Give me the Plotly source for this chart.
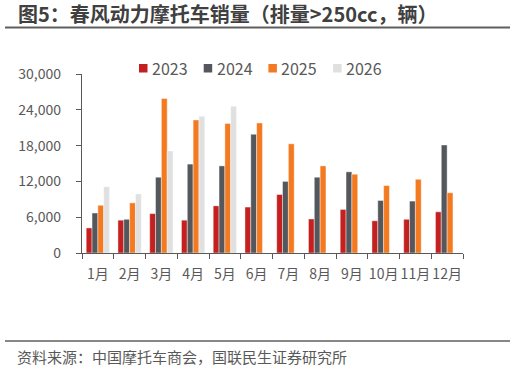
import plotly.graph_objects as go

months = ["1月", "2月", "3月", "4月", "5月", "6月", "7月", "8月", "9月", "10月", "11月", "12月"]
years = ["2023", "2024", "2025", "2026"]
s2023 = [4200, 5500, 6600, 5500, 7900, 7700, 9800, 5700, 7300, 5400, 5650, 6900]
s2024 = [6700, 5650, 12700, 14900, 14600, 19900, 12000, 12700, 13600, 8800, 8700, 18100]
s2025 = [8000, 8400, 25900, 22300, 21700, 21800, 18300, 14600, 13200, 11300, 12350, 10100]
s2026 = [11100, 9900, 17100, 22900, 24600, None, None, None, None, None, None, None]
series = [s2023, s2024, s2025, s2026]
colors = ["#C3201F", "#54575B", "#F47A22", "#E0E0E0"]
y_ticks = [0, 6000, 12000, 18000, 24000, 30000]

W, H = 515, 369
ML, MR, MT, MB = 82, 52, 74, 116
PW = W - ML - MR
PH = H - MT - MB
FONT = "Noto Sans CJK SC"
GRAY = "#595959"

def px(x):
    return (x - ML) / PW

def py(y):
    return (H - MB - y) / PH

fig = go.Figure()
for name, vals, c in zip(years, series, colors):
    fig.add_trace(go.Bar(
        x=months, y=vals, name=name,
        marker=dict(color=c, line=dict(color="rgba(255,255,255,0.7)", width=0.6)),
        showlegend=False,
    ))

# legend drawn as squares + labels
for i, (name, c) in enumerate(zip(years, colors)):
    x0 = 139 + 64.7 * i
    fig.add_shape(type="rect", xref="paper", yref="paper", x0=px(x0), x1=px(x0 + 8.5),
                  y0=py(72.5), y1=py(64), line=dict(width=0), fillcolor=c)
    fig.add_annotation(text=name, xref="paper", yref="paper", x=px(x0 + 11), y=py(68),
                       xanchor="left", yanchor="middle", showarrow=False,
                       font=dict(size=16, color=GRAY, family=FONT))

fig.update_layout(
    width=W, height=H,
    margin=dict(l=ML, r=MR, t=MT, b=MB, pad=0),
    paper_bgcolor="white", plot_bgcolor="white",
    barmode="group", bargap=0.265, bargroupgap=0,
    font=dict(family=FONT, color=GRAY, size=14),
    showlegend=False,
    xaxis=dict(type="category", showline=True, linecolor=GRAY, linewidth=1.3,
               ticks="outside", ticklen=5, tickcolor=GRAY, tickwidth=1.3, tickson="boundaries",
               tickangle=0, tickfont=dict(size=14, color=GRAY), ticklabelstandoff=8, showgrid=False),
    yaxis=dict(range=[0, 30000], tickvals=y_ticks, tickformat=",", showline=True, linecolor=GRAY,
               linewidth=1.3, ticks="outside", ticklen=5, tickcolor=GRAY, tickwidth=1.3,
               tickfont=dict(size=14, color=GRAY), ticklabelstandoff=12, showgrid=False, zeroline=False),
)

fig.add_annotation(text="<b>图5：春风动力摩托车销量（排量>250cc，辆）</b>", xref="paper", yref="paper",
                   x=px(16), y=py(13), xanchor="left", yanchor="middle", showarrow=False,
                   font=dict(size=20, color="#404040", family=FONT))
fig.add_annotation(text="资料来源：中国摩托车商会，国联民生证券研究所", xref="paper", yref="paper",
                   x=px(15), y=py(356), xanchor="left", yanchor="middle", showarrow=False,
                   font=dict(size=15, color=GRAY, family=FONT))
fig.add_shape(type="line", xref="paper", yref="paper", x0=px(5), x1=px(510), y0=py(27.5), y1=py(27.5),
              line=dict(color="#5F5F5F", width=2))
fig.add_shape(type="line", xref="paper", yref="paper", x0=px(5), x1=px(510), y0=py(341), y1=py(341),
              line=dict(color="#5F5F5F", width=1.5))

fig.write_html("out.html")
